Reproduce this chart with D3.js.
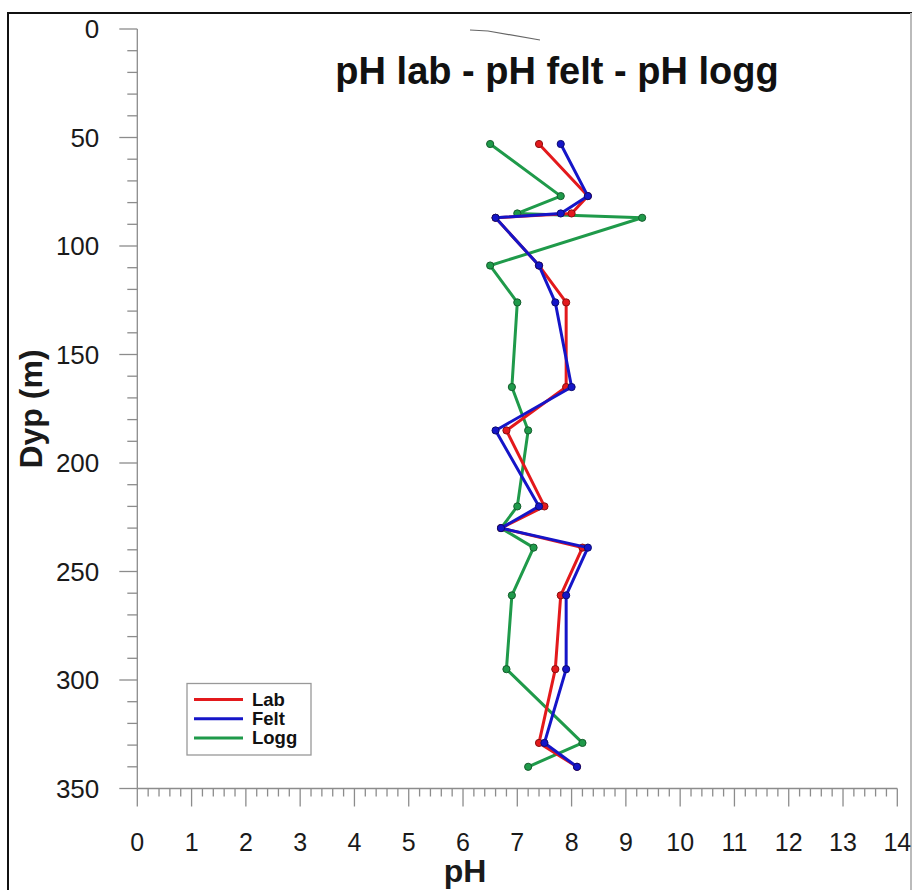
<!DOCTYPE html>
<html>
<head>
<meta charset="utf-8">
<script src="https://cdn.jsdelivr.net/npm/d3@7"></script>
<style>
  html, body { margin: 0; padding: 0; background: #fff; }
  svg { display: block; font-family: "Liberation Sans", Arial, sans-serif; }
</style>
</head>
<body>
<svg id="chart" width="912" height="890"></svg>
<script>
// Data (depth in m, pH values)
const depths = [53, 77, 85, 87, 109, 126, 165, 185, 220, 230, 239, 261, 295, 329, 340];
const phLab  = [7.4, 8.3, 8.0, 6.6, 7.4, 7.9, 7.9, 6.8, 7.5, 6.7, 8.2, 7.8, 7.7, 7.4, 8.1];
const phFelt = [7.8, 8.3, 7.8, 6.6, 7.4, 7.7, 8.0, 6.6, 7.4, 6.7, 8.3, 7.9, 7.9, 7.5, 8.1];
const phLogg = [6.5, 7.8, 7.0, 9.3, 6.5, 7.0, 6.9, 7.2, 7.0, 6.7, 7.3, 6.9, 6.8, 8.2, 7.2];
const seriesNames = ["Lab", "Felt", "Logg"];
const xTicks = [0,1,2,3,4,5,6,7,8,9,10,11,12,13,14];
const yTicks = [0,50,100,150,200,250,300,350];

const colors = { Lab: "#e3191c", Felt: "#1515c8", Logg: "#1f9a4a" };
const dotStroke = { Lab: "#8a1010", Felt: "#0c0c70", Logg: "#145c2c" };

const svg = d3.select("#chart");

// Outer frame
svg.append("rect").attr("x", 8).attr("y", 13).attr("width", 903).attr("height", 900)
  .attr("fill", "none").attr("stroke", "#111").attr("stroke-width", 2);
svg.append("line").attr("x1", 911).attr("x2", 911).attr("y1", 13).attr("y2", 890)
  .attr("stroke", "#bbb").attr("stroke-width", 2);

const x = d3.scaleLinear().domain([0, 14]).range([137.3, 897.3]);
const y = d3.scaleLinear().domain([0, 350]).range([29, 788.5]);

const axisColor = "#8c8c8c";
const labelColor = "#1a1a1a";

// Y axis
const yAxisG = svg.append("g").attr("transform", `translate(${x(0)},0)`);
yAxisG.append("line").attr("x1", 0).attr("x2", 0).attr("y1", y(0)).attr("y2", y(350))
  .attr("stroke", axisColor).attr("stroke-width", 1.3);
const yMinor = d3.range(0, 351, 10);
yAxisG.selectAll(".ymin").data(yMinor).join("line")
  .attr("x1", d => (d % 50 === 0 ? -18 : -10)).attr("x2", 0)
  .attr("y1", d => y(d)).attr("y2", d => y(d))
  .attr("stroke", axisColor).attr("stroke-width", 1.3);
yAxisG.selectAll(".ylab").data(yTicks).join("text")
  .attr("x", -38).attr("y", d => y(d)).attr("dy", "0.36em")
  .attr("text-anchor", "end").attr("font-size", 26).attr("fill", labelColor)
  .text(d => d);

// X axis
const xAxisG = svg.append("g").attr("transform", `translate(0,${y(350)})`);
xAxisG.append("line").attr("x1", x(0)).attr("x2", x(14)).attr("y1", 0).attr("y2", 0)
  .attr("stroke", axisColor).attr("stroke-width", 1.3);
const xMinor = d3.range(0, 70.5, 1).map(d => d / 5);
xAxisG.selectAll(".xmin").data(xMinor).join("line")
  .attr("x1", d => x(d)).attr("x2", d => x(d))
  .attr("y1", 0).attr("y2", (d, i) => (i % 5 === 0 ? 18 : 8))
  .attr("stroke", axisColor).attr("stroke-width", 1.3);
xAxisG.selectAll(".xlab").data(xTicks).join("text")
  .attr("x", d => x(d)).attr("y", 62)
  .attr("text-anchor", "middle").attr("font-size", 25).attr("fill", labelColor)
  .text(d => d);

// Axis titles
svg.append("text").attr("x", 465).attr("y", 882).attr("text-anchor", "middle")
  .attr("font-size", 32).attr("font-weight", "bold").attr("fill", labelColor).text("pH");
svg.append("text").attr("transform", `translate(42,409) rotate(-90)`)
  .attr("text-anchor", "middle").attr("font-size", 32).attr("font-weight", "bold")
  .attr("fill", labelColor).text("Dyp (m)");

// Title
svg.append("text").attr("x", 557).attr("y", 84).attr("text-anchor", "middle")
  .attr("font-size", 38).attr("font-weight", "bold").attr("fill", "#111")
  .text("pH lab - pH felt - pH logg");

// small stray stroke near top
svg.append("path").attr("d", "M470,30 L488,31 L540,40").attr("fill", "none")
  .attr("stroke", "#666").attr("stroke-width", 1.2);

// Series
const seriesData = [
  { name: "Lab", vals: phLab },
  { name: "Felt", vals: phFelt },
  { name: "Logg", vals: phLogg }
];
const line = d3.line().x(d => x(d.ph)).y(d => y(d.depth));

const drawOrder = ["Logg", "Lab", "Felt"];
drawOrder.forEach(name => {
  const s = seriesData.find(o => o.name === name);
  const pts = depths.map((dp, i) => ({ depth: dp, ph: s.vals[i] }));
  const g = svg.append("g");
  g.append("path").datum(pts).attr("d", line).attr("fill", "none")
    .attr("stroke", colors[name]).attr("stroke-width", 3).attr("stroke-linejoin", "round");
  g.selectAll("circle").data(pts).join("circle")
    .attr("cx", d => x(d.ph)).attr("cy", d => y(d.depth)).attr("r", 3.6)
    .attr("fill", colors[name]).attr("stroke", dotStroke[name]).attr("stroke-width", 1);
});

// Legend
const lg = svg.append("g");
lg.append("rect").attr("x", 187).attr("y", 683.5).attr("width", 124).attr("height", 71.5)
  .attr("fill", "#fff").attr("stroke", "#999").attr("stroke-width", 1.3);
seriesNames.forEach((n, i) => {
  const yy = 699.5 + i * 19.2;
  lg.append("line").attr("x1", 194).attr("x2", 243).attr("y1", yy).attr("y2", yy)
    .attr("stroke", colors[n]).attr("stroke-width", 3);
  lg.append("text").attr("x", 252).attr("y", yy).attr("dy", "0.35em")
    .attr("font-size", 18.5).attr("font-weight", "bold").attr("fill", "#111").text(n);
});
</script>
</body>
</html>
